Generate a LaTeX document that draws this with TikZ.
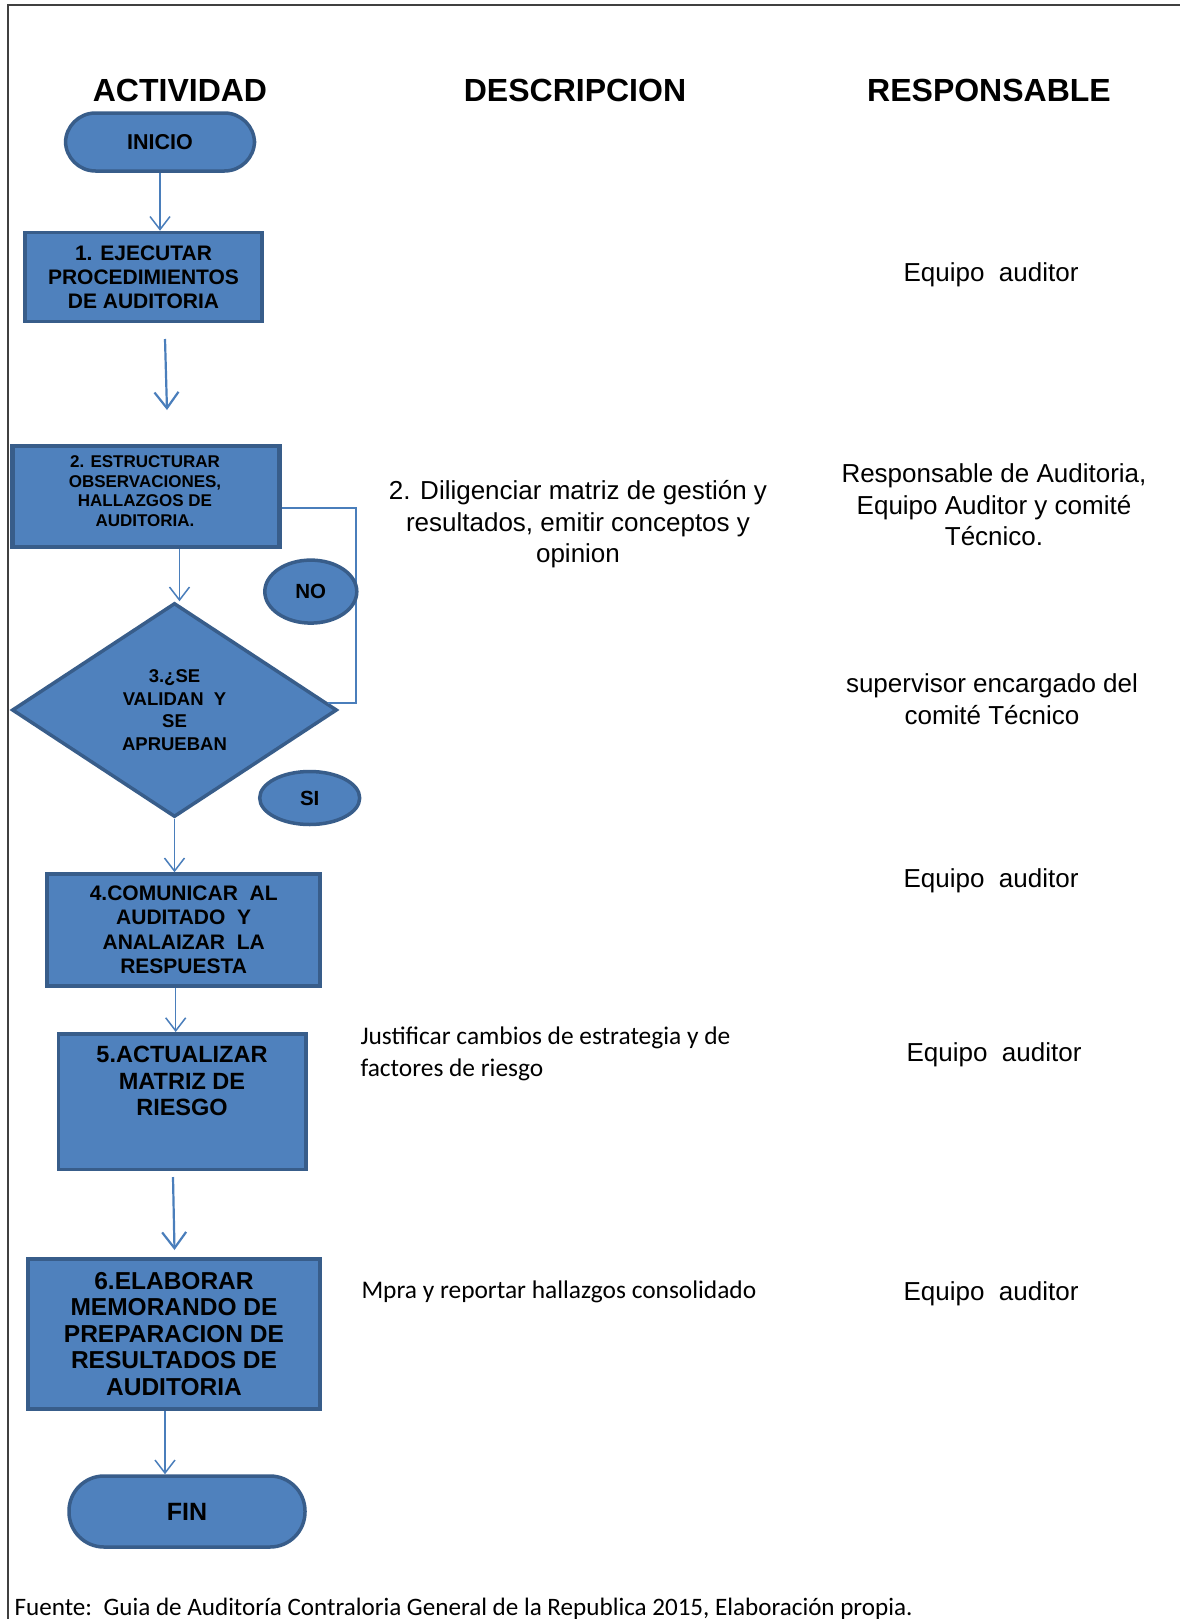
\documentclass[tikz,border=0pt]{standalone}
\usepackage{fontspec}
\setmainfont{Liberation Sans}
\newfontfamily\calibri{Carlito}
\usetikzlibrary{shapes.geometric,arrows.meta}
\definecolor{boxfill}{HTML}{4F81BD}
\definecolor{boxline}{HTML}{385D8A}
\definecolor{flowline}{HTML}{4A7EBB}
\newcommand{\txtsize}[2]{\fontsize{#1pt}{#2pt}\selectfont}

\begin{document}
\begin{tikzpicture}[x=1pt, y=-1pt,
    head/.style={inner sep=0pt, font=\bfseries\txtsize{32}{37}},
    txt/.style={inner sep=0pt, align=center, font=\txtsize{26}{31.5}},
    caltxt/.style={inner sep=0pt, align=left, font=\calibri\txtsize{25.4}{32}},
    box/.style={draw=boxline, fill=boxfill, line width=3.5pt, inner sep=0pt, align=center},
    term/.style={box, rounded corners=#1},
    decision/.style={box, diamond},
    oval/.style={box, ellipse},
    flow/.style={draw=flowline, line width=1.5pt, -{Straight Barb[length=13pt,width=20pt]}},
    bigflow/.style={flow, line width=2.2pt, -{Straight Barb[length=16pt,width=24pt]}},
    loopline/.style={draw=flowline, line width=1.3pt}]
        % Frame
        \fill[white] (0,0) rectangle (1180,1619);
        \useasboundingbox (0,0) rectangle (1180,1619);
        \draw[black!75, line width=2pt] (7.5,1619) -- (7.5,5) -- (1180,5);
        % Headers
        \node[head] (hact) at (180,90) {ACTIVIDAD};
        \node[head] (hdes) at (575,90) {DESCRIPCION};
        \node[head] (hres) at (989,90) {RESPONSABLE};
        % Actividad
        \node[term=30pt, minimum width=189pt, minimum height=58pt, font=\bfseries\txtsize{21.5}{24}] (inicio) at (160,142) {INICIO};
        \node[box, minimum width=237pt, minimum height=89pt, font=\bfseries\txtsize{21}{24.2}] (ejecutar) at (143.5,277) {1. EJECUTAR\\PROCEDIMIENTOS\\DE AUDITORIA};
        \node[box, line width=4.5pt, minimum width=267pt, minimum height=101pt] (estructurar) at (146,496.5) {};
        \node[inner sep=0pt, align=center, font=\bfseries\txtsize{17}{19.6}] (estructurartxt) at (145,491) {2. ESTRUCTURAR\\OBSERVACIONES,\\HALLAZGOS DE\\AUDITORIA.};
        \node[decision, minimum width=325pt, minimum height=214pt, font=\bfseries\txtsize{18.5}{22.5}] (validan) at (174.5,710) {3.¿SE\\VALIDAN~~Y\\SE\\APRUEBAN};
        \node[box, minimum width=273pt, minimum height=112pt, font=\bfseries\txtsize{21}{24.5}] (comunicar) at (183.7,930) {4.COMUNICAR~~AL\\AUDITADO~~Y\\ANALAIZAR~~LA\\RESPUESTA};
        \node[box, minimum width=247.5pt, minimum height=135.5pt] (actualizar) at (182,1101.5) {};
        \node[inner sep=0pt, align=center, font=\bfseries\txtsize{23.5}{26.8}] (actualizartxt) at (182,1081) {5.ACTUALIZAR\\MATRIZ DE\\RIESGO};
        \node[box, minimum width=292pt, minimum height=150pt, font=\bfseries\txtsize{24.5}{26.5}] (elaborar) at (174,1334) {6.ELABORAR\\MEMORANDO DE\\PREPARACION DE\\RESULTADOS DE\\AUDITORIA};
        \node[term=35pt, minimum width=236pt, minimum height=71pt, font=\bfseries\txtsize{25}{28}] (fin) at (187,1511.5) {FIN};
        % Connectors
        \coordinate (ejecutarout) at (165,339);
        \coordinate (estructurarin) at (167,410);
        \coordinate (actualizarout) at (173,1177);
        \coordinate (elaborarin) at (174.5,1250);
        \draw[flow] (inicio.south) -- (inicio.south |- ejecutar.north);
        \draw[bigflow] (ejecutarout) -- (estructurarin);
        \draw[flow] ([xshift=5pt]validan.north |- estructurar.south) -- ([xshift=5pt]validan.north);
        \draw[flow] (validan.south) -- (validan.south |- comunicar.north);
        \draw[flow] ([xshift=-8pt]comunicar.south) -- ([xshift=-8pt]comunicar.south |- actualizar.north);
        \draw[bigflow] (actualizarout) -- (elaborarin);
        \draw[flow] ([xshift=-9pt]elaborar.south) -- ([xshift=-9pt]elaborar.south |- fin.north);
        % Loop back (NO)
        \draw[loopline] (estructurar.east |- 0,508) -- (356,508) |- (328,703);
        \node[oval, minimum width=92pt, minimum height=63pt, font=\bfseries\txtsize{20.5}{24}] (no) at (310.8,591.6) {NO};
        \node[oval, minimum width=100pt, minimum height=53pt, font=\bfseries\txtsize{20.5}{24}] (si) at (309.7,798) {SI};
        % Descripcion
        \node[txt] (desc2) at (578,524.5) {2. Diligenciar matriz de gestión y\\resultados, emitir conceptos y\\opinion};
        \node[caltxt, anchor=west] (desc5) at (360.3,1053.5) {Justificar cambios de estrategia y de\\factores de riesgo};
        \node[caltxt, anchor=west] (desc6) at (361.3,1291.5) {Mpra y reportar hallazgos consolidado};
        % Responsable
        \node[txt] (resp1) at (991,274.5) {Equipo~~auditor};
        \node[txt] (resp2) at (994,505) {Responsable de Auditoria,\\Equipo Auditor y comité\\Técnico.};
        \node[txt] (resp3) at (992,699) {supervisor encargado del\\comité Técnico};
        \node[txt] (resp4) at (991,880.5) {Equipo~~auditor};
        \node[txt] (resp5) at (994,1055) {Equipo~~auditor};
        \node[txt] (resp6) at (991,1293.5) {Equipo~~auditor};
        % Source
        \node[caltxt, anchor=base west, font=\calibri\txtsize{25.1}{32}] (fuente) at (14.5,1615) {Fuente:~~Guia de Auditoría Contraloria General de la Republica 2015, Elaboración propia.};
\end{tikzpicture}
\end{document}
